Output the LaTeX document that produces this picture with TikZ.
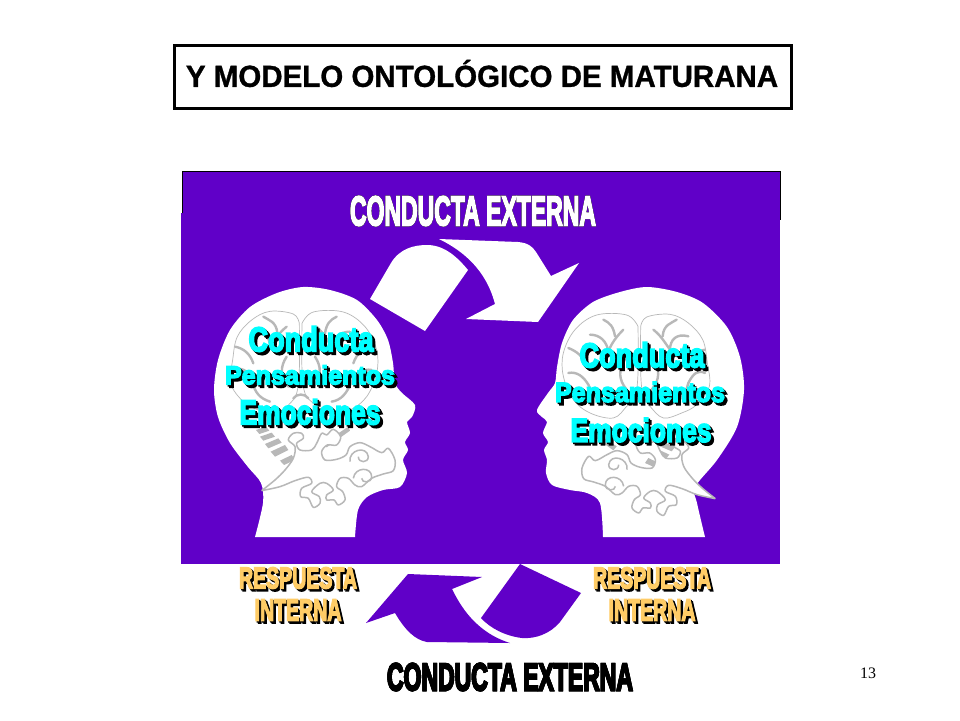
\documentclass[tikz,border=0pt]{standalone}
\usepackage{graphicx}
\usepackage{fontspec}
\setmainfont{Liberation Sans}
\newfontfamily\impactf[FakeBold=5]{Liberation Sans Bold}
\newfontfamily\titlef[FakeBold=1]{Liberation Sans Bold}
\newfontfamily\numf{Liberation Serif}
\definecolor{purp}{HTML}{6000C8}
\definecolor{cy}{HTML}{00FFFF}
\definecolor{org}{HTML}{FFCC66}
\definecolor{gr}{HTML}{B8B8B8}
\tikzset{
  txt/.style={inner sep=0pt,outer sep=0pt,anchor=center},
  brainline/.style={draw=gr,line width=.7pt,line join=round},
  sulcus/.style={draw=gr,line width=2.4pt,line cap=round},
  lizard/.style={draw=gr,line width=1.5pt,line join=round,fill=white},
  hatch/.style={fill=gr,draw=none},
}
% name, x, y, w, h, colour, shadow offset, text
\newcommand{\fittext}[8]{%
  \node[txt,text=black] (#1s2) at (#2+#7,#3+#7) {\resizebox{#4pt}{#5pt}{\impactf #8}};
  \node[txt,text=black] (#1s1) at (#2+#7/2,#3+#7/2) {\resizebox{#4pt}{#5pt}{\impactf #8}};
  \node[txt,text=#6] (#1) at (#2,#3) {\resizebox{#4pt}{#5pt}{\impactf #8}};
}
\newcommand{\brainparts}{%
  \draw[brainline] plot[smooth,tension=.6] coordinates {(358,160)(340,132)(270,124)(215,150)(172,200)(158,270)(152,340)(190,395)(235,420)(290,435)(330,400)(350,370)(358,300)(358,160)};
  \draw[brainline] plot[smooth,tension=.6] coordinates {(366,160)(400,126)(490,126)(555,170)(590,240)(590,310)(560,380)(510,420)(440,435)(400,400)(375,370)(366,300)(366,160)};
  \draw[sulcus] (215,190) .. controls (250,180) and (270,200) .. (270,230);
  \draw[sulcus] (320,170) .. controls (295,190) and (285,210) .. (270,230);
  \draw[sulcus] (250,140) .. controls (265,150) and (290,155) .. (292,190);
  \draw[sulcus] (165,230) .. controls (190,235) and (210,250) .. (220,280);
  \draw[sulcus] (165,300) .. controls (185,290) and (200,300) .. (215,330);
  \draw[sulcus] (215,330) .. controls (225,370) and (240,385) .. (270,395);
  \draw[sulcus] (320,260) .. controls (300,290) and (300,320) .. (325,350);
  \draw[sulcus] (410,170) .. controls (430,190) and (445,210) .. (455,235);
  \draw[sulcus] (510,185) .. controls (480,185) and (460,205) .. (455,235);
  \draw[sulcus] (470,140) .. controls (450,150) and (440,160) .. (435,190);
  \draw[sulcus] (575,225) .. controls (550,235) and (530,250) .. (520,280);
  \draw[sulcus] (575,300) .. controls (550,295) and (530,310) .. (515,335);
  \draw[sulcus] (515,335) .. controls (500,370) and (485,390) .. (455,395);
  \draw[sulcus] (405,260) .. controls (425,290) and (425,320) .. (400,350);
  \draw[sulcus] (340,385) .. controls (350,370) and (375,370) .. (385,385);
  \fill[hatch] (228,480)--(258,470)--(268,482)--(238,492)--cycle;
  \fill[hatch] (240,500)--(275,488)--(285,500)--(250,512)--cycle;
  \fill[hatch] (255,522)--(295,505)--(305,518)--(265,535)--cycle;
  \fill[hatch] (272,545)--(315,525)--(325,540)--(285,560)--cycle;
  \fill[hatch] (300,572)--(335,555)--(345,570)--(312,585)--cycle;
  \fill[hatch] (430,520)--(505,470)--(510,482)--(440,532)--cycle;
}
\newcommand{\lizardparts}{%
  \draw[lizard] plot[smooth,tension=.55] coordinates {
    (245,662)(300,650)(345,632)(385,622)(395,640)(365,655)(362,680)(385,685)(400,712)(420,700)(418,680)(395,665)(420,640)(440,640)(460,660)(440,675)(440,690)(462,690)(475,705)(495,690)(488,665)(470,650)(480,625)(505,625)(525,645)(545,650)(575,625)(610,612)(640,602)(645,570)(625,535)(605,548)(570,530)(540,518)(510,530)(498,555)(470,568)(435,570)(425,545)(442,525)(470,525)(482,500)(460,478)(440,495)(425,490)(410,520)(395,540)(360,540)(350,520)(370,505)(365,490)(340,490)(325,510)(345,530)(340,565)(315,600)(285,630)(245,662)};
  \draw[draw=gr,line width=1.5pt] (510,575) .. controls (505,540) and (560,525) .. (565,560) .. controls (565,580) and (535,580) .. (535,560);
  \draw[draw=gr,line width=1.5pt] (520,625) .. controls (525,590) and (575,590) .. (575,620) .. controls (575,640) and (545,640) .. (545,625);
}
\begin{document}
\begin{tikzpicture}[x=1pt,y=-1pt,line join=miter]
\useasboundingbox (0,0) rectangle (960,720);
\fill[white] (0,0) rectangle (960,720);
\node[draw=black,line width=3pt,minimum width=617pt,minimum height=63pt,inner sep=0pt] (titlebox) at (482.5,77) {};
\node[txt] (title) at (482,73.5) {\resizebox{592pt}{27pt}{\titlef Y MODELO ONTOLÓGICO DE MATURANA}};
\fill[purp,draw=black,line width=.8pt] (182.5,171.5) rectangle (780.5,219);
\fill[purp] (181,213) rectangle (780,564);
\fittext{ceTop}{473}{211}{246}{29}{white}{0}{CONDUCTA EXTERNA}
\fill[white] (370,299) -- (391,263) .. controls (400,248) and (415,245) .. (427,245)
  .. controls (445,245) and (458,258) .. (468,270) -- (425,331) -- cycle;
\fill[white] (439,239) -- (518,242) .. controls (528,243) and (532,246) .. (536,252)
  -- (551,276) -- (579,263) -- (538,322) -- (466,319) -- (495,304)
  .. controls (490,285) and (478,258) .. (439,239) -- cycle;
\fill[white] plot[smooth,tension=.5] coordinates {(255,537)(263,503)(261,483)(248,467)(230,443)(218,417)(214,390)(218,360)(230,330)(250,307)(277,293)(303,287)(330,290)(357,300)(377,320)(388,340)(393,363)(395,383)(402,393)(415,405)(412,417)(407,422)(410,433)(405,442)(408,450)(403,460)(407,473)(400,487)(383,490)(367,497)(358,510)(355,537)} -- cycle;
\begin{scope}[shift={(180,270)},x=.3333pt,y=-.3333pt]
  \brainparts
  \lizardparts
\end{scope}
\fill[white] plot[smooth,tension=.5] coordinates {(705,537)(697,503)(695,487)(717,460)(737,427)(744,390)(740,357)(727,327)(703,303)(677,292)(647,287)(620,292)(593,302)(573,320)(562,343)(557,367)(555,383)(548,393)(537,410)(542,417)(547,422)(543,433)(548,442)(544,450)(547,460)(546,473)(552,485)(570,490)(587,493)(600,503)(603,537)} -- cycle;
\begin{scope}[shift={(760,273)},x=-.3333pt,y=-.3333pt]
  \brainparts
\end{scope}
\begin{scope}[shift={(797,278)},x=-.3333pt,y=-.3333pt]
  \lizardparts
\end{scope}
\fittext{condL}{311}{339}{125}{25}{cy}{3}{Conducta}
\fittext{pensL}{310}{375}{170}{19}{cy}{3}{Pensamientos}
\fittext{emoL}{310}{412}{141}{25}{cy}{3}{Emociones}
\fittext{condR}{642}{355}{125}{25}{cy}{3}{Conducta}
\fittext{pensR}{640}{392}{170}{20}{cy}{3}{Pensamientos}
\fittext{emoR}{641}{430}{141}{24}{cy}{3}{Emociones}
\fill[purp] (520,564) -- (581,593) -- (560,622) .. controls (550,634) and (535,639) .. (522,638)
  .. controls (505,636) and (490,628) .. (481,618) -- cycle;
\fill[purp] (408,574) -- (482,577) -- (452,589) .. controls (460,605) and (475,632) .. (510,643)
  -- (427,642) .. controls (415,640) and (405,630) .. (395,613) -- (366,623) -- cycle;
\fittext{respL}{298}{578}{118}{21}{org}{2.5}{RESPUESTA}
\fittext{intL}{298}{610}{87}{21}{org}{2.5}{INTERNA}
\fittext{respR}{652}{578}{118}{21}{org}{2.5}{RESPUESTA}
\fittext{intR}{652}{610}{87}{21}{org}{2.5}{INTERNA}
\fittext{ceBot}{510}{677}{246}{27}{black}{0}{CONDUCTA EXTERNA}
\node[txt] (pagenum) at (868,673) {\fontsize{16}{18}\selectfont\numf 13};
\end{tikzpicture}
\end{document}
